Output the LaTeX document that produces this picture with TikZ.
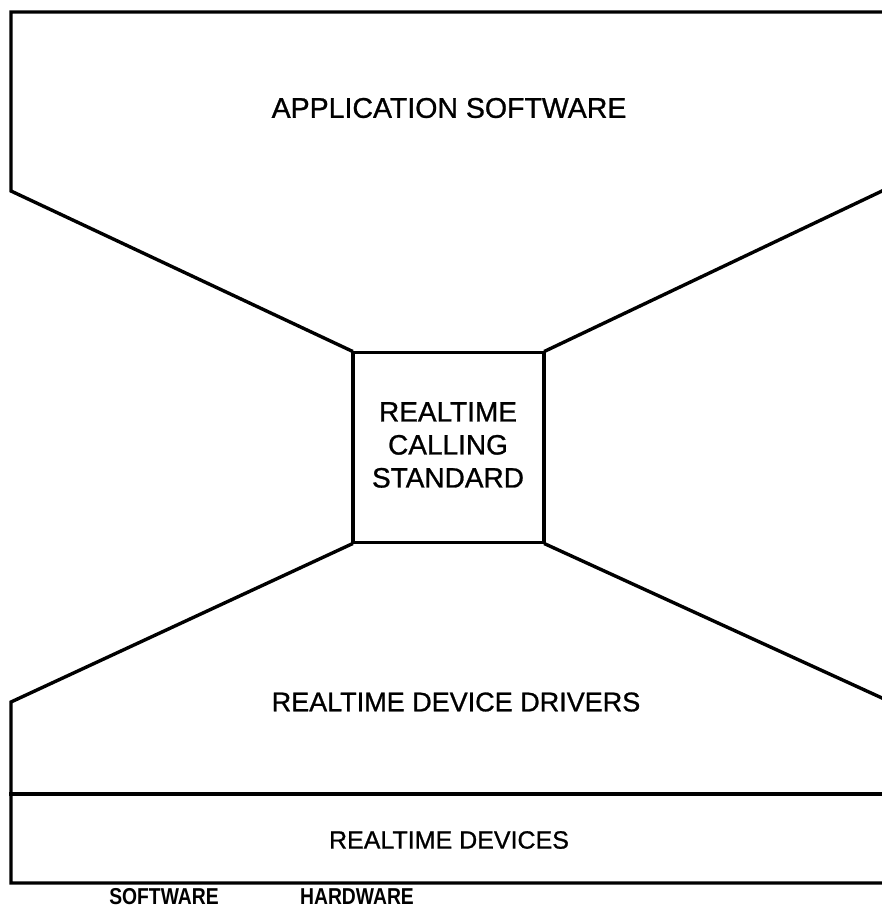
\documentclass[tikz,border=0pt]{standalone}
\usepackage{fontspec}
\setmainfont{Liberation Sans}
\newfontfamily\medfont[FakeBold=0.9]{Liberation Sans}
\newcommand{\narrowfoot}[1]{\scalebox{0.84}[1]{#1}}
\begin{document}
\begin{tikzpicture}[x=1pt,y=-1pt,
  edge/.style={line width=3.4pt,line join=miter,line cap=rect},
  lab/.style={align=center,inner sep=0pt},
  foot/.style={font=\bfseries\fontsize{23}{26}\selectfont,inner sep=0pt}]
\useasboundingbox (0,0) rectangle (882,917);
% outline vertices
\coordinate (tl) at (11,12);
\coordinate (tr) at (882,12);
\coordinate (lu) at (11,191);
\coordinate (ru) at (882,191);
\coordinate (ll) at (11,702);
\coordinate (rl) at (882,698);
\coordinate (ml) at (11,794);
\coordinate (mr) at (882,794);
\coordinate (bl) at (11,883);
\coordinate (br) at (882,883);
% central box
\node[draw,edge,minimum width=191pt,minimum height=190pt,inner sep=0pt] (box) at (448.5,447.5) {};
\node[lab,font=\medfont\fontsize{28}{33}\selectfont] (std) at (448,445) {REALTIME\\CALLING\\STANDARD};
% top funnel
\draw[edge] (tr) -- (tl) -- (lu) -- (box.north west);
\draw[edge] (box.north east) -- (ru);
% bottom funnel
\draw[edge] (box.south west) -- (ll) -- (bl) -- (br);
\draw[edge] (box.south east) -- (rl);
\draw[edge] (ml) -- (mr);
% labels
\node[lab,font=\medfont\fontsize{28.5}{33}\selectfont] (app) at (449,108) {APPLICATION SOFTWARE};
\node[lab,font=\medfont\fontsize{27}{33}\selectfont] (drv) at (456,702) {REALTIME DEVICE DRIVERS};
\node[lab,font=\medfont\fontsize{25}{33}\selectfont] (dev) at (449,840) {REALTIME DEVICES};
\node[foot] (sw) at (164,897) {\narrowfoot{SOFTWARE}};
\node[foot] (hw) at (357,897) {\narrowfoot{HARDWARE}};
\end{tikzpicture}
\end{document}
